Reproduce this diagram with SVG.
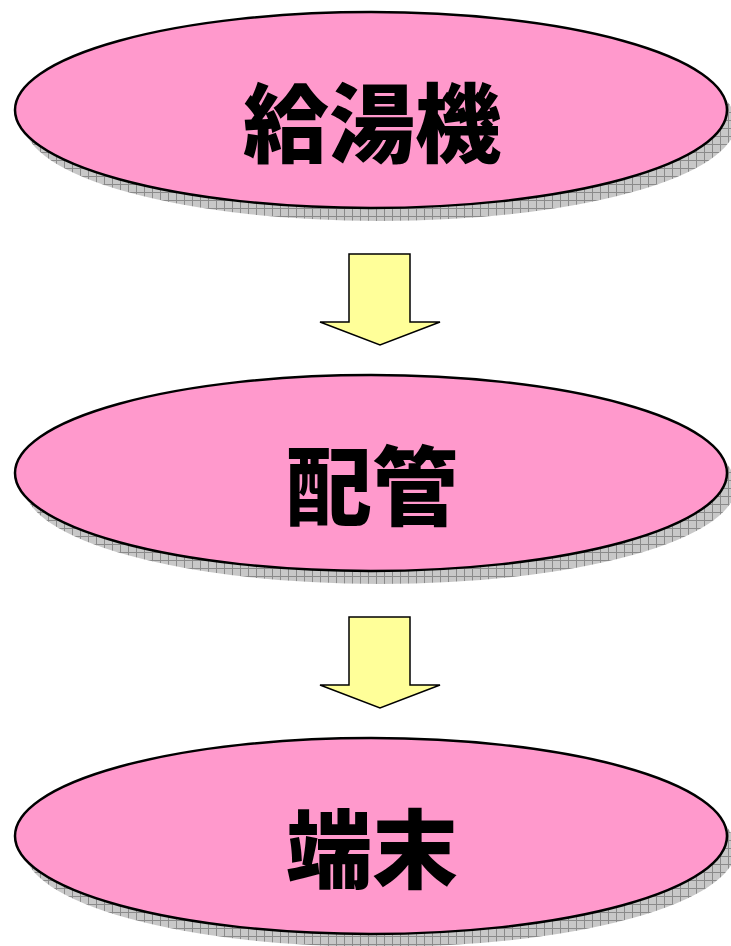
<svg xmlns="http://www.w3.org/2000/svg" width="731" height="946" viewBox="0 0 731 946">
<style>
.node{fill:#FF99CC;stroke:#000;stroke-width:2.5}
.shadow{fill:url(#grid)}
.label{font-family:"Noto Sans CJK JP","Noto Sans CJK SC",sans-serif;font-weight:900;font-size:86px;fill:#000;text-anchor:middle;dominant-baseline:central}
.arrow{fill:#FFFF99;stroke:#000;stroke-width:1.5;stroke-linejoin:miter}
</style>
<defs>
<pattern id="grid" width="8" height="8" patternUnits="userSpaceOnUse">
<rect width="8" height="8" fill="#c8c8c8"/>
<path d="M0 0.5H8M0.5 0V8" stroke="#8a8a8a" stroke-width="1"/>
</pattern>
</defs>
<rect width="731" height="946" fill="#fff"/>
<g id="node1">
<ellipse class="shadow" cx="380" cy="123" rx="356" ry="98"/>
<ellipse class="node" cx="371" cy="110" rx="356" ry="98"/>
<text class="label" x="372" y="118">給湯機</text>
</g>
<g id="node2">
<ellipse class="shadow" cx="380" cy="486" rx="356" ry="98"/>
<ellipse class="node" cx="371" cy="473" rx="356" ry="98"/>
<text class="label" x="372" y="481">配管</text>
</g>
<g id="node3">
<ellipse class="shadow" cx="380" cy="849" rx="356" ry="98"/>
<ellipse class="node" cx="371" cy="836" rx="356" ry="98"/>
<text class="label" x="372" y="844">端末</text>
</g>
<g id="connectors">
<path class="arrow" d="M349 254H410V322H440L380 345L320 322H349Z"/>
<path class="arrow" d="M349 617H410V685H440L380 708L320 685H349Z"/>
</g>
</svg>
